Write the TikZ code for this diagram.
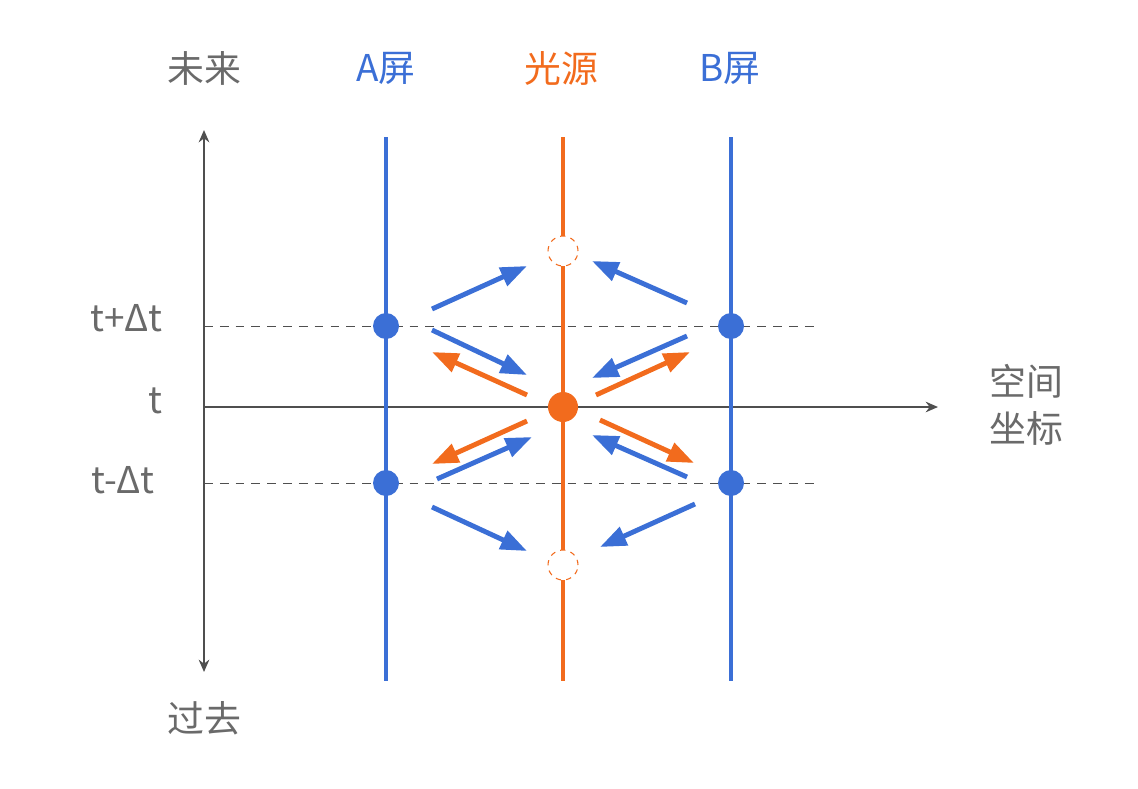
\documentclass[tikz,border=0pt]{standalone}
\usepackage{fontspec}
\newfontfamily\cjk{Noto Sans CJK SC}
\usetikzlibrary{arrows.meta}
\definecolor{screenblue}{HTML}{3B6FD6}
\definecolor{lightorange}{HTML}{F26B1D}
\definecolor{axisgrey}{HTML}{4F4F4F}
\definecolor{textgrey}{HTML}{6A6A6A}
\begin{document}
\begin{tikzpicture}[
        x=0.02cm, y=-0.02cm,
        label/.style={font=\cjk\fontsize{21}{24}\selectfont, text=textgrey, inner sep=0pt},
        axis/.style={draw=axisgrey, line width=1.2pt, -{Stealth[length=7pt,width=6pt]}},
        screen/.style={draw=screenblue, line width=2.5pt},
        source/.style={draw=lightorange, line width=2.5pt},
        level/.style={draw=axisgrey, line width=0.5pt, dash pattern=on 5pt off 4pt},
        event/.style={circle, fill=screenblue, inner sep=0pt, minimum size=0.52cm},
        emit/.style={circle, fill=lightorange, inner sep=0pt, minimum size=0.6cm},
        ghost/.style={circle, draw=lightorange, fill=white, dashed, line width=0.6pt, inner sep=0pt, minimum size=0.6cm},
        barrow/.style={draw=screenblue, line width=2.8pt, -{Triangle[length=15pt,width=11pt]}},
        oarrow/.style={draw=lightorange, line width=2.8pt, -{Triangle[length=15pt,width=11pt]}}
    ]
    \useasboundingbox (0,0) rectangle (1138,788);

    % Axes
    \coordinate (top) at (204,130);
    \coordinate (bot) at (204,672);
    \coordinate (org) at (204,407);
    \coordinate (right) at (938,407);
    \draw[axis, {Stealth[length=7pt,width=6pt]}-{Stealth[length=7pt,width=6pt]}] (top) -- (bot);
    \draw[axis] (org) -- (right);

    % Time levels
    \coordinate (up0) at (204,326);
    \coordinate (up1) at (818,326);
    \coordinate (dn0) at (204,483);
    \coordinate (dn1) at (818,483);
    \draw[level] (up0) -- (up1);
    \draw[level] (dn0) -- (dn1);

    % Screens and source
    \coordinate (a0) at (386,137);
    \coordinate (a1) at (386,681);
    \coordinate (s0) at (563,137);
    \coordinate (s1) at (563,681);
    \coordinate (b0) at (731,137);
    \coordinate (b1) at (731,681);
    \draw[screen] (a0) -- (a1);
    \draw[source] (s0) -- (s1);
    \draw[screen] (b0) -- (b1);

    % Events
    \node[event] (aup) at (386,326) {};
    \node[event] (bup) at (731,326) {};
    \node[event] (adn) at (386,483) {};
    \node[event] (bdn) at (731,483) {};
    \node[emit] (src) at (563,407) {};
    \node[ghost] (gup) at (563,251) {};
    \node[ghost] (gdn) at (563,565) {};

    % Arrows
    \coordinate (p1) at (432,309); \coordinate (q1) at (527,266);
    \coordinate (p2) at (687,303); \coordinate (q2) at (592,261);
    \coordinate (p3) at (432,330); \coordinate (q3) at (527,375);
    \coordinate (p4) at (687,336); \coordinate (q4) at (592,378);
    \coordinate (p5) at (527,395); \coordinate (q5) at (432,352);
    \coordinate (p6) at (596,395); \coordinate (q6) at (690,352);
    \coordinate (p7) at (527,421); \coordinate (q7) at (432,464);
    \coordinate (p8) at (437,479); \coordinate (q8) at (532,437);
    \coordinate (p9) at (600,420); \coordinate (q9) at (694,463);
    \coordinate (p10) at (687,477); \coordinate (q10) at (592,435);
    \coordinate (p11) at (432,507); \coordinate (q11) at (527,551);
    \coordinate (p12) at (695,504); \coordinate (q12) at (600,547);
    \draw[barrow] (p1) -- (q1);
    \draw[barrow] (p2) -- (q2);
    \draw[barrow] (p3) -- (q3);
    \draw[barrow] (p4) -- (q4);
    \draw[oarrow] (p5) -- (q5);
    \draw[oarrow] (p6) -- (q6);
    \draw[oarrow] (p7) -- (q7);
    \draw[barrow] (p8) -- (q8);
    \draw[oarrow] (p9) -- (q9);
    \draw[barrow] (p10) -- (q10);
    \draw[barrow] (p11) -- (q11);
    \draw[barrow] (p12) -- (q12);

    % Labels
    \node[label] (future) at (204,68) {未来};
    \node[label] (past) at (204,718) {过去};
    \node[label, text=screenblue] (alab) at (386,68) {A屏};
    \node[label, text=lightorange] (slab) at (561,68) {光源};
    \node[label, text=screenblue] (blab) at (730,68) {B屏};
    \node[label] (space) at (1026,381) {空间};
    \node[label] (coord) at (1026,428) {坐标};
    \node[label, anchor=east] (tp) at (163,318) {t+Δt};
    \node[label, anchor=east] (t) at (163,401) {t};
    \node[label, anchor=east] (tm) at (155,480) {t-Δt};

\end{tikzpicture}
\end{document}
